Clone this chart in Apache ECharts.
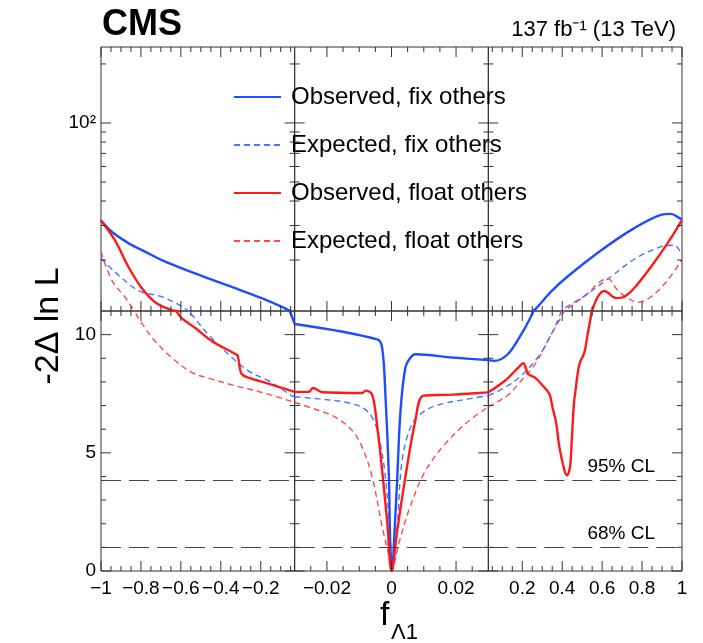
<!DOCTYPE html>
<html>
<head>
<meta charset="utf-8">
<script src="https://cdn.jsdelivr.net/npm/echarts@6/dist/echarts.min.js"></script>
<style>
  html, body { margin: 0; padding: 0; background: #fff; }
  #chart { width: 703px; height: 643px; }
</style>
</head>
<body>
<div id="chart"></div>
<script>
// likelihood scans, pairs of [f_Lambda1, -2 Delta ln L]
const obsFix = [
  [-1, 31.8], [-0.946, 27.9], [-0.863, 24.4], [-0.78, 22.1], [-0.696, 20.0], [-0.529, 17.1],
  [-0.362, 14.8], [-0.195, 12.8], [-0.078, 11.35], [-0.055, 11.0], [-0.03, 10.45],
  [-0.0044, 9.8], [-0.0029, 9.45], [-0.0019, 7.5], [-0.0008, 4.0], [-0.0004, 1.2], [0.0002, 0],
  [0.0008, 1.3], [0.0018, 4.0], [0.0028, 6.8], [0.0043, 8.6], [0.0059, 9.03], [0.0074, 9.17],
  [0.019, 9.03], [0.03, 8.92],
  [0.06, 8.89], [0.127, 9.17], [0.194, 10.0], [0.244, 10.77], [0.255, 11.0], [0.277, 11.57],
  [0.344, 13.8], [0.427, 16.5], [0.594, 22.4], [0.761, 29.1], [0.895, 34.0], [0.945, 34.4],
  [0.987, 32.7], [1, 32.3]
];
const expFix = [
  [-1, 20.5], [-0.93, 17.4], [-0.813, 14.0], [-0.696, 13.0], [-0.596, 11.65], [-0.562, 11.0],
  [-0.546, 10.85], [-0.462, 10.0], [-0.362, 9.17], [-0.262, 8.47], [-0.162, 8.05], [-0.045, 7.42],
  [-0.03, 7.37],
  [-0.0225, 7.28], [-0.0142, 7.14], [-0.0091, 6.92], [-0.006, 6.5], [-0.0039, 5.66], [-0.0019, 3.98],
  [-0.0003, 1.18], [0.0002, 0], [0.0018, 1.88], [0.0033, 4.68], [0.0064, 6.23], [0.0105, 6.79],
  [0.0157, 7.07], [0.0239, 7.28], [0.03, 7.42],
  [0.113, 7.76], [0.194, 8.26], [0.264, 8.89], [0.31, 9.45], [0.377, 10.57], [0.395, 11.0],
  [0.41, 11.35], [0.511, 13.1], [0.645, 16.5], [0.761, 20.2], [0.895, 23.4], [0.962, 23.8],
  [0.995, 21.8], [1, 21.5]
];
const obsFloat = [
  [-1, 31.8], [-0.93, 25.2], [-0.863, 18.5], [-0.796, 14.4], [-0.729, 12.2], [-0.646, 11.1],
  [-0.625, 11.0], [-0.596, 10.7], [-0.529, 10.29], [-0.445, 9.73], [-0.329, 9.19], [-0.315, 9.1],
  [-0.305, 8.6], [-0.295, 8.33], [-0.262, 8.18], [-0.162, 7.93], [-0.03, 7.58],
  [-0.0256, 7.58], [-0.0243, 7.74], [-0.0214, 7.56], [-0.0091, 7.53], [-0.008, 7.63], [-0.006, 7.46],
  [-0.0044, 6.08], [-0.0029, 4.26], [-0.0013, 2.02], [0, 0], [0.0018, 1.74], [0.0043, 3.98],
  [0.0074, 6.37], [0.01, 7.42], [0.0188, 7.46], [0.03, 7.56],
  [0.113, 8.05], [0.18, 8.6], [0.205, 8.79], [0.23, 8.33], [0.264, 8.18], [0.302, 7.85],
  [0.336, 7.49], [0.352, 6.9], [0.369, 6.3], [0.386, 5.24], [0.411, 4.26], [0.424, 4.05],
  [0.439, 4.4], [0.447, 5.4], [0.458, 7.0], [0.466, 7.6], [0.486, 8.75], [0.511, 9.24],
  [0.527, 10.0], [0.548, 11.0], [0.578, 13.0], [0.611, 13.9], [0.67, 12.8], [0.711, 13.0],
  [0.761, 14.4], [0.845, 18.5], [0.928, 24.4], [1, 32.0]
];
const expFloat = [
  [-1, 22.1], [-0.946, 15.8], [-0.88, 12.96], [-0.83, 11.0], [-0.78, 10.29], [-0.73, 9.73],
  [-0.646, 9.03], [-0.546, 8.4], [-0.445, 8.12], [-0.329, 7.84], [-0.195, 7.56], [-0.03, 7.13],
  [-0.0225, 6.79], [-0.0173, 6.5], [-0.0122, 5.95], [-0.0091, 5.24], [-0.006, 3.98], [-0.0029, 1.88],
  [-0.0008, 0.62], [0, 0], [0.0023, 1.18], [0.0054, 2.58], [0.0095, 3.98], [0.0126, 4.68],
  [0.0167, 5.39], [0.0229, 6.23], [0.03, 6.95],
  [0.085, 7.2], [0.135, 7.49], [0.194, 8.05], [0.264, 8.75], [0.344, 10.0], [0.41, 11.0],
  [0.511, 13.1], [0.628, 16.1], [0.678, 14.0], [0.728, 12.8], [0.778, 12.2], [0.845, 13.0],
  [0.928, 15.8], [1, 20.2]
];

// the three x pieces and the two y pieces
const colRanges = [[-1, -0.03], [-0.03, 0.03], [0.03, 1]];
const xMajor = [[-1, -0.8, -0.6, -0.4, -0.2], [-0.02, 0, 0.02], [0.2, 0.4, 0.6, 0.8, 1]];
const xMinorStep = [0.05, 0.005, 0.05];
const yLowRange = [0, 11];
const yLowMajor = [0, 5, 10];
const yLowMinor = [1, 2, 3, 4, 6, 7, 8, 9];
const yLogRange = [11, 244];
const yLogMajor = [100];
const yLogMinor = [20, 30, 40, 50, 60, 70, 80, 90, 200];
const clLevels = [1, 3.84];
const clLabels = ['68% CL', '95% CL'];

const FONT = "'Liberation Sans', Arial, sans-serif";
const AXIS_COLOR = '#333';

const chart = echarts.init(document.getElementById('chart'));

const plotLeft = 101, plotRight = 682, plotTop = 47, plotSplit = 311, plotBottom = 571;
const colW = (plotRight - plotLeft) / 3;

function minorTicks(c) {
    const [lo, hi] = colRanges[c];
    const step = xMinorStep[c];
    const out = [];
    for (let k = Math.ceil(lo / step - 1e-6); k * step <= hi + 1e-9; k++) {
        const v = +(k * step).toFixed(4);
        if (v > lo + 1e-9 && v < hi - 1e-9 && !xMajor[c].some(m => Math.abs(m - v) < 1e-6)) out.push(v);
    }
    return out;
}

function fmt(v) {
    if (Math.abs(v) < 1e-9) return '0';
    return v < 0 ? '\u2212' + String(+Math.abs(v).toFixed(3)) : String(+v.toFixed(3));
}

// ROOT style ticks on all four sides of a panel, placed through the panel's axes
function tickSeries(g, xr, yr, xMaj, xMin, yMaj, yMin) {
    const data = [];
    xMaj.forEach(v => data.push([v, yr[0], 0]));
    xMin.forEach(v => data.push([v, yr[0], 1]));
    yMaj.forEach(v => data.push([xr[0], v, 2]));
    yMin.forEach(v => data.push([xr[0], v, 3]));
    return {
        type: 'custom', xAxisIndex: g, yAxisIndex: g, silent: true, clip: false, z: 5,
        data: data,
        renderItem: (params, api) => {
            const kind = api.value(2);
            const len = kind % 2 === 0 ? 10 : 5;
            const st = { stroke: AXIS_COLOR, lineWidth: 1 };
            let a, b;
            if (kind < 2) {
                const v = api.value(0);
                a = api.coord([v, yr[0]]);
                b = api.coord([v, yr[1]]);
                return { type: 'group', children: [
                    { type: 'line', shape: { x1: a[0], y1: a[1], x2: a[0], y2: a[1] - len }, style: st },
                    { type: 'line', shape: { x1: b[0], y1: b[1], x2: b[0], y2: b[1] + len }, style: st }
                ] };
            }
            const v = api.value(1);
            a = api.coord([xr[0], v]);
            b = api.coord([xr[1], v]);
            return { type: 'group', children: [
                { type: 'line', shape: { x1: a[0], y1: a[1], x2: a[0] + len, y2: a[1] }, style: st },
                { type: 'line', shape: { x1: b[0], y1: b[1], x2: b[0] - len, y2: b[1] }, style: st }
            ] };
        }
    };
}

const grids = [], xAxes = [], yAxes = [], series = [];

const curves = [
    { name: 'Expected, float others', data: expFloat, color: '#ff4a4a', width: 1.4, dash: [6, 4] },
    { name: 'Expected, fix others', data: expFix, color: '#4a74ff', width: 1.4, dash: [6, 4] },
    { name: 'Observed, fix others', data: obsFix, color: '#1f4cff', width: 2.4, dash: 'solid' },
    { name: 'Observed, float others', data: obsFloat, color: '#ff1a1a', width: 2.4, dash: 'solid' }
];

for (let r = 0; r < 2; r++) {
    for (let c = 0; c < 3; c++) {
        const g = grids.length;
        const top = r === 0 ? plotTop : plotSplit;
        const h = r === 0 ? plotSplit - plotTop : plotBottom - plotSplit;
        grids.push({
            left: plotLeft + c * colW, width: colW, top: top, height: h,
            show: true, borderColor: AXIS_COLOR, borderWidth: 1, backgroundColor: 'transparent'
        });

        const xr = colRanges[c];
        const yr = r === 0 ? yLogRange : yLowRange;
        const yMaj = r === 0 ? yLogMajor : yLowMajor;
        const yMin = r === 0 ? yLogMinor : yLowMinor;

        xAxes.push({
            type: 'value', gridIndex: g, position: 'bottom', min: xr[0], max: xr[1],
            axisLine: { show: false, onZero: false },
            axisTick: { show: false },
            axisLabel: {
                show: r === 1, customValues: xMajor[c], formatter: fmt, margin: 8,
                fontSize: 19, color: '#000', fontFamily: FONT
            },
            splitLine: { show: false }
        });
        yAxes.push({
            type: r === 0 ? 'log' : 'value', logBase: 10, gridIndex: g, position: 'left',
            min: yr[0], max: yr[1],
            axisLine: { show: false, onZero: false },
            axisTick: { show: false },
            axisLabel: {
                show: c === 0, customValues: yMaj,
                formatter: v => (r === 0 ? (Math.abs(v - 100) < 1e-6 ? '10\u00b2' : '') : fmt(v)),
                margin: 5, fontSize: 19, color: '#000', fontFamily: FONT
            },
            splitLine: { show: false }
        });

        series.push(tickSeries(g, xr, yr, xMajor[c], minorTicks(c), yMaj, yMin));

        // confidence level lines in the lower row
        if (r === 1) {
            series.push({
                type: 'line', xAxisIndex: g, yAxisIndex: g, data: [], silent: true,
                markLine: {
                    symbol: 'none', silent: true, animation: false,
                    lineStyle: { color: '#444', width: 1.2, type: [20, 8] },
                    label: {
                        show: c === 2, position: 'insideEndTop', distance: [27, 4],
                        fontSize: 19, color: '#000', fontFamily: FONT
                    },
                    data: clLevels.map((v, i) => ({ yAxis: v, label: { formatter: clLabels[i] } }))
                }
            });
        }

        // curve pieces; nothing reaches the upper middle panel
        if (r === 0 && c === 1) continue;
        const inRow = p => (r === 0 ? p[1] >= yr[0] - 1e-9 : p[1] <= yr[1] + 1e-9);
        curves.forEach(cv => {
            const col = cv.data.filter(p => p[0] >= xr[0] - 1e-9 && p[0] <= xr[1] + 1e-9);
            const pts = col.filter((p, i) => inRow(p) || (i > 0 && inRow(col[i - 1])) || (i < col.length - 1 && inRow(col[i + 1])));
            series.push({
                name: cv.name, type: 'line', xAxisIndex: g, yAxisIndex: g,
                data: pts, symbol: 'none', showSymbol: false, clip: true,
                smooth: 0.35,
                lineStyle: { color: cv.color, width: cv.width, type: cv.dash },
                itemStyle: { color: cv.color }
            });
        });
    }
}

chart.setOption({
    animation: false,
    grid: grids,
    xAxis: xAxes,
    yAxis: yAxes,
    legend: {
        orient: 'vertical', left: 233, top: 85, padding: 0,
        itemWidth: 47, itemHeight: 14, itemGap: 24,
        selectedMode: false,
        itemStyle: { opacity: 0 },
        data: ['Observed, fix others', 'Expected, fix others', 'Observed, float others', 'Expected, float others'],
        textStyle: { fontSize: 24, color: '#000', fontFamily: FONT, padding: [0, 0, 0, 5], lineHeight: 24 }
    },
    graphic: [
        { type: 'text', left: 102, top: 7, style: { text: 'CMS', font: 'bold 36px ' + FONT, fill: '#000' } },
        { type: 'text', right: 27, top: 19, style: { text: '137 fb\u207b\u00b9 (13 TeV)', font: '22px ' + FONT, fill: '#000' } },
        {
            type: 'text', x: 49, y: 326, rotation: Math.PI / 2,
            style: { text: '-2\u0394 ln L', font: '34px ' + FONT, fill: '#000', align: 'center', verticalAlign: 'middle' }
        },
        { type: 'text', x: 380, y: 616, style: { text: 'f', font: '34px ' + FONT, fill: '#000', align: 'left', verticalAlign: 'middle' } },
        { type: 'text', x: 391, y: 633, style: { text: '\u039b1', font: '22px ' + FONT, fill: '#000', align: 'left', verticalAlign: 'middle' } }
    ],
    series: series
});
</script>
</body>
</html>
